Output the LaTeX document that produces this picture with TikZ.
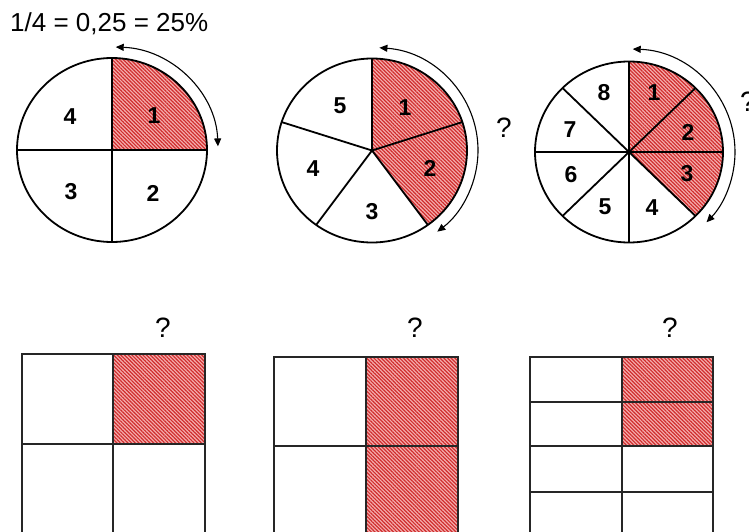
\documentclass[tikz,border=0pt]{standalone}
\usepackage{fontspec}
\setmainfont{Liberation Sans}
\usetikzlibrary{patterns.meta,arrows.meta}
\definecolor{hatchbg}{RGB}{245,175,175}
\definecolor{hatchln}{RGB}{208,45,45}
\tikzset{
  hatch/.style={fill=hatchbg, postaction={pattern={Lines[angle=-45,distance=2.6pt,line width=1.2pt]}, pattern color=hatchln}},
  ln/.style={draw=black, line width=1.8pt},
  sqln/.style={draw=black!85, line width=1.8pt},
  arr/.style={draw=black, line width=1.1pt, {Triangle[length=8pt,width=7pt]}-{Triangle[length=8pt,width=7pt]}},
  lab/.style={font=\bfseries\fontsize{23}{23}\selectfont, inner sep=0pt},
  qm/.style={font=\fontsize{28}{28}\selectfont, inner sep=0pt},
  ttl/.style={font=\fontsize{26}{26}\selectfont, inner sep=0pt, anchor=base west}
}
\begin{document}
\begin{tikzpicture}[x=1pt,y=1pt]
\useasboundingbox[fill=white] (0,0) rectangle (749,-532);
% title
\node[ttl] (title) at (10,-32) {1/4 = 0,25 = 25\%};
% ---------- circle 1 ----------
\begin{scope}[shift={(112,-150)}]
  \fill[hatch] (0,0) -- (90:95 and 92) arc[start angle=90,end angle=0,x radius=95,y radius=92] -- cycle;
  \draw[ln] (0,0) ellipse[x radius=95,y radius=92];
  \draw[ln] (90:95 and 92) -- (-90:95 and 92);
  \draw[ln] (180:95 and 92) -- (0:95 and 92);
  \draw[arr] (88:106 and 103) arc[start angle=88,end angle=2,x radius=106,y radius=103];
\end{scope}
\node[lab] (a4) at (70,-117) {4};
\node[lab] (a1) at (154,-116) {1};
\node[lab] (a3) at (71,-192) {3};
\node[lab] (a2) at (153,-193) {2};
% ---------- circle 2 ----------
\begin{scope}[shift={(372,-150.5)}]
  \fill[hatch] (0,0) -- (90:95 and 92) arc[start angle=90,end angle=-54,x radius=95,y radius=92] -- cycle;
  \draw[ln] (0,0) ellipse[x radius=95,y radius=92];
  \foreach \a in {90,18,-54,-126,162} \draw[ln] (0,0) -- (\a:95 and 92);
  \draw[arr] (86:106 and 103) arc[start angle=86,end angle=-52,x radius=106,y radius=103];
\end{scope}
\node[lab] (b5) at (340,-106) {5};
\node[lab] (b1) at (405,-108) {1};
\node[lab] (b4) at (313,-169) {4};
\node[lab] (b2) at (430,-168) {2};
\node[lab] (b3) at (372,-212) {3};
\node[qm] (q2) at (504,-128) {?};
% ---------- circle 3 ----------
\begin{scope}[shift={(629,-152)}]
  \fill[hatch] (0,0) -- (90:94 and 90.5) arc[start angle=90,end angle=-45,x radius=94,y radius=90.5] -- cycle;
  \draw[ln] (0,0) ellipse[x radius=94,y radius=90.5];
  \foreach \a in {90,45,0,-45} \draw[ln] (\a:94 and 90.5) -- (\a+180:94 and 90.5);
  \draw[arr] (88:106 and 103) arc[start angle=88,end angle=-43,x radius=106,y radius=103];
\end{scope}
\node[lab] (c8) at (604,-93) {8};
\node[lab] (c1) at (654,-93) {1};
\node[lab] (c7) at (570,-130) {7};
\node[lab] (c2) at (688,-132) {2};
\node[lab] (c6) at (571,-175) {6};
\node[lab] (c3) at (687,-174) {3};
\node[lab] (c5) at (605,-207) {5};
\node[lab] (c4) at (652,-208) {4};
\node[qm] (q3) at (748,-102) {?};
% ---------- square 1 ----------
\fill[hatch] (113,-354) rectangle (205,-444);
\draw[sqln] (22,-354) rectangle (205,-534);
\draw[sqln] (113,-354) -- (113,-534);
\draw[sqln] (22,-444) -- (205,-444);
\node[qm] (q4) at (163,-328) {?};
% ---------- square 2 ----------
\fill[hatch] (366,-357) rectangle (458,-535);
\draw[sqln] (274,-357) rectangle (458,-535);
\draw[sqln] (366,-357) -- (366,-535);
\draw[sqln] (274,-446) -- (458,-446);
\node[qm] (q5) at (415,-328) {?};
% ---------- square 3 ----------
\fill[hatch] (622,-357) rectangle (713,-446);
\draw[sqln] (530,-357) rectangle (713,-536);
\draw[sqln] (622,-357) -- (622,-536);
\foreach \yy in {402,446,492} \draw[sqln] (530,-\yy) -- (713,-\yy);
\node[qm] (q6) at (670,-328) {?};
\end{tikzpicture}
\end{document}
